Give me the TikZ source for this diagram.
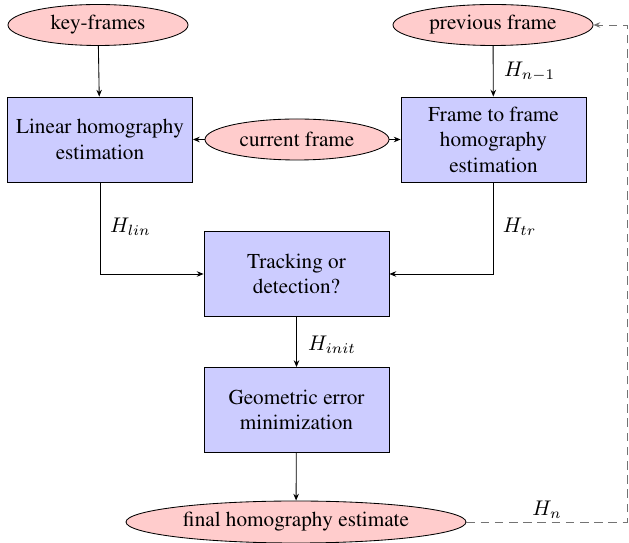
\documentclass[tikz,border=0pt]{standalone}
\usepackage[T1]{fontenc}
\usepackage{times}
\usetikzlibrary{arrows.meta,shapes.geometric}
\def\pxu{0.4717pt}
\definecolor{termfill}{RGB}{255,204,204}
\definecolor{procfill}{RGB}{204,204,255}
\tikzset{
  term/.style={ellipse, draw=black, fill=termfill, inner sep=0pt,
    minimum height=41*\pxu},
  proc/.style={rectangle, draw=black, fill=procfill, align=center,
    minimum width=185*\pxu, minimum height=85*\pxu, inner sep=0pt},
  flow/.style={-{Stealth[length=3.2pt,width=2.6pt]}},
  feedback/.style={dash pattern=on 4pt off 2.7pt, draw=black!55, -{Stealth[length=3.2pt,width=2.6pt]}},
  lbl/.style={inner sep=0pt}
}
\begin{document}
\begin{tikzpicture}[x=\pxu, y=-\pxu]
\useasboundingbox (0,0) rectangle (629,543);

% inputs
\node[term, minimum width=180*\pxu] (key) at (98,25) {key-frames};
\node[term, minimum width=200*\pxu] (prev) at (493,25) {previous frame};
\node[term, minimum width=184*\pxu] (cur) at (297,139.5) {current frame};

% estimation stages
\node[proc] (lin) at (100,139.5) {Linear homography\\estimation};
\node[proc] (f2f) at (493.5,139.5) {Frame to frame\\homography\\estimation};
\node[proc] (track) at (296.5,274) {Tracking or\\detection?};
\node[proc] (geo) at (296.5,410) {Geometric error\\minimization};

% result
\node[term, minimum width=340*\pxu, minimum height=42*\pxu] (final) at (296,522) {final homography estimate};

% feedback corner
\coordinate (fbA) at (627,522);
\coordinate (fbB) at (627,25);

% connectors
\draw[flow] (key) -- (lin);
\draw[flow] (prev) -- node[lbl, right=5pt, pos=0.5] {$H_{n-1}$} (f2f);
\draw[flow] (cur) -- (lin);
\draw[flow] (cur) -- (f2f);
\draw[flow] (lin.south) |- (track.west);
\draw[flow] (f2f.south) |- (track.east);
\draw[flow] (track) -- (geo);
\draw[flow] (geo) -- (final);
\draw[feedback] (final.east) -- (fbA) -- (fbB) -- (prev.east);

% edge labels
\node[lbl] (hlin) at (130.5,227) {$H_{lin}$};
\node[lbl] (htr) at (519.5,227) {$H_{tr}$};
\node[lbl] (hinit) at (332,345) {$H_{init}$};
\node[lbl] (hn) at (547,510) {$H_n$};
\end{tikzpicture}
\end{document}
